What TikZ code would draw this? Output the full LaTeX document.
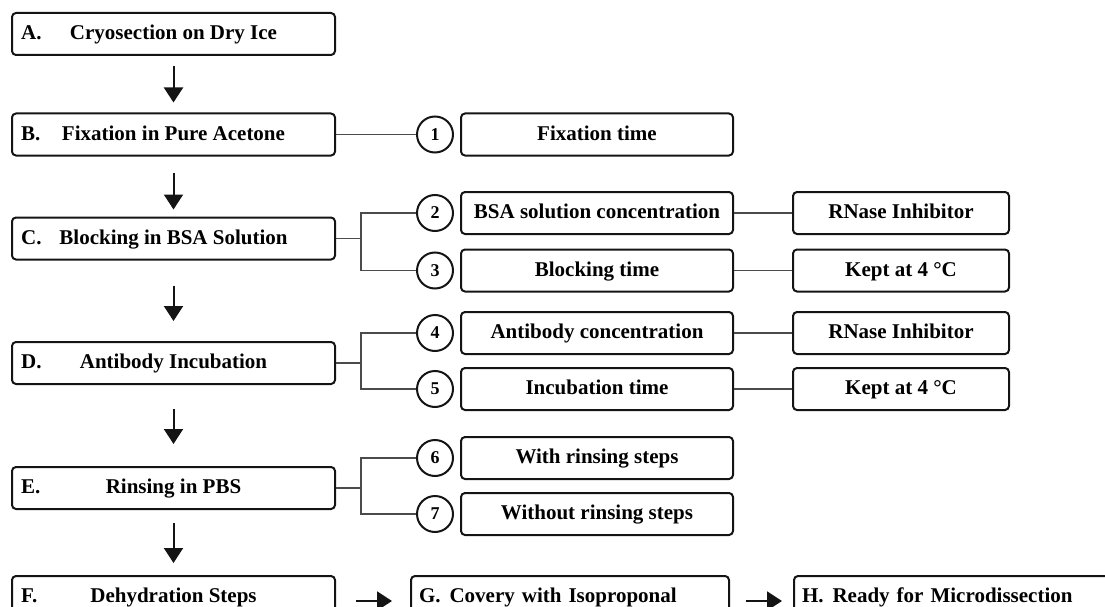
\documentclass[tikz,border=0pt]{standalone}
\usepackage{fontspec}
\setmainfont{Liberation Serif}
\usetikzlibrary{arrows.meta}
\definecolor{inkc}{RGB}{20,20,20}
\definecolor{linkc}{RGB}{75,75,75}

\begin{document}
\begin{tikzpicture}[x=1pt, y=-1pt, >={Triangle[length=15pt, width=19pt]},
  font=\bfseries\fontsize{21}{25}\selectfont,
  txt/.style={text height=15pt, text depth=3.5pt},
  stepbox/.style={draw=inkc, line width=2pt, rounded corners=4pt, txt,
    minimum width=323pt, minimum height=42pt, inner sep=0pt},
  subbox/.style={stepbox, minimum width=272pt},
  notebox/.style={stepbox, minimum width=216pt},
  numc/.style={circle, draw=inkc, line width=2pt, minimum size=36pt, inner sep=0pt,
    font=\bfseries\fontsize{18}{20}\selectfont},
  letter/.style={anchor=west, inner sep=0pt, xshift=10pt, txt},
  link/.style={linkc, line width=1.5pt},
  flow/.style={->, inkc, line width=2pt}]

  % picture frame (bottom row is cut off in the original)
  \clip (0,0) rectangle (1105,607);

  % main protocol steps, left column
  \node[stepbox, label={[letter]west:A.}] (A) at (173.5,34)  {Cryosection on Dry Ice};
  \node[stepbox, label={[letter]west:B.}] (B) at (173.5,134.5) {Fixation in Pure Acetone};
  \node[stepbox, label={[letter]west:C.}] (C) at (173.5,238.5) {Blocking in BSA Solution};
  \node[stepbox, label={[letter]west:D.}] (D) at (173.5,363)  {Antibody Incubation};
  \node[stepbox, label={[letter]west:E.}] (E) at (173.5,488)  {Rinsing in PBS};
  \node[stepbox, label={[letter]west:F.}] (F) at (173.5,597)  {Dehydration Steps};

  % last two steps run to the right, text set flush left
  \node[stepbox, minimum width=318pt, text width=302pt, align=left] (G) at (570,597)
    {G.\hspace{9pt}Covery with Isoproponal};
  \node[stepbox, minimum width=330pt, text width=314pt, align=left] (H) at (959,597)
    {H.\hspace{9pt}Ready for Microdissection};

  % numbered parameters
  \node[numc] (n1) at (435,134.5) {1};
  \node[numc] (n2) at (435,213)   {2};
  \node[numc] (n3) at (435,270.5) {3};
  \node[numc] (n4) at (435,333)   {4};
  \node[numc] (n5) at (435,389)   {5};
  \node[numc] (n6) at (435,458)   {6};
  \node[numc] (n7) at (435,514)   {7};

  \node[subbox] (s1) at (597,134.5) {Fixation time};
  \node[subbox] (s2) at (597,213)   {BSA solution concentration};
  \node[subbox] (s3) at (597,270.5) {Blocking time};
  \node[subbox] (s4) at (597,333)   {Antibody concentration};
  \node[subbox] (s5) at (597,389)   {Incubation time};
  \node[subbox] (s6) at (597,458)   {With rinsing steps};
  \node[subbox] (s7) at (597,514)   {Without rinsing steps};

  % extra conditions
  \node[notebox] (r2) at (901,213)   {RNase Inhibitor};
  \node[notebox] (r3) at (901,270.5) {Kept at 4 °C};
  \node[notebox] (r4) at (901,333)   {RNase Inhibitor};
  \node[notebox] (r5) at (901,389)   {Kept at 4 °C};

  % step to step arrows
  \draw[flow, shorten <=10pt, shorten >=10pt] (A) -- (B);
  \draw[flow, shorten <=16pt, shorten >=7pt]  (B) -- (C);
  \draw[flow, shorten <=25pt, shorten >=20pt] (C) -- (D);
  \draw[flow, shorten <=24pt, shorten >=22pt] (D) -- (E);
  \draw[flow, shorten <=13pt, shorten >=12pt] (E) -- (F);
  \draw[flow, shorten <=20pt, shorten >=18pt] ([yshift=-4pt]F.east) -- ([yshift=-4pt]G.west);
  \draw[flow, shorten <=16pt, shorten >=11pt] ([yshift=-4pt]G.east) -- ([yshift=-4pt]H.west);

  % forks from the steps to their parameters
  \draw[link] (B) -- (n1);
  \draw[link] (C.east) -- ++(25,0) coordinate (cfork);
  \draw[link] (n2.west) -| (cfork) |- (n3.west);
  \draw[link] (D.east) -- ++(25,0) coordinate (dfork);
  \draw[link] (n4.west) -| (dfork) |- (n5.west);
  \draw[link] (E.east) -- ++(25,0) coordinate (efork);
  \draw[link] (n6.west) -| (efork) |- (n7.west);

  \draw[link] (s2) -- (r2);
  \draw[link] (s3) -- (r3);
  \draw[link] (s4) -- (r4);
  \draw[link] (s5) -- (r5);

\end{tikzpicture}
\end{document}
